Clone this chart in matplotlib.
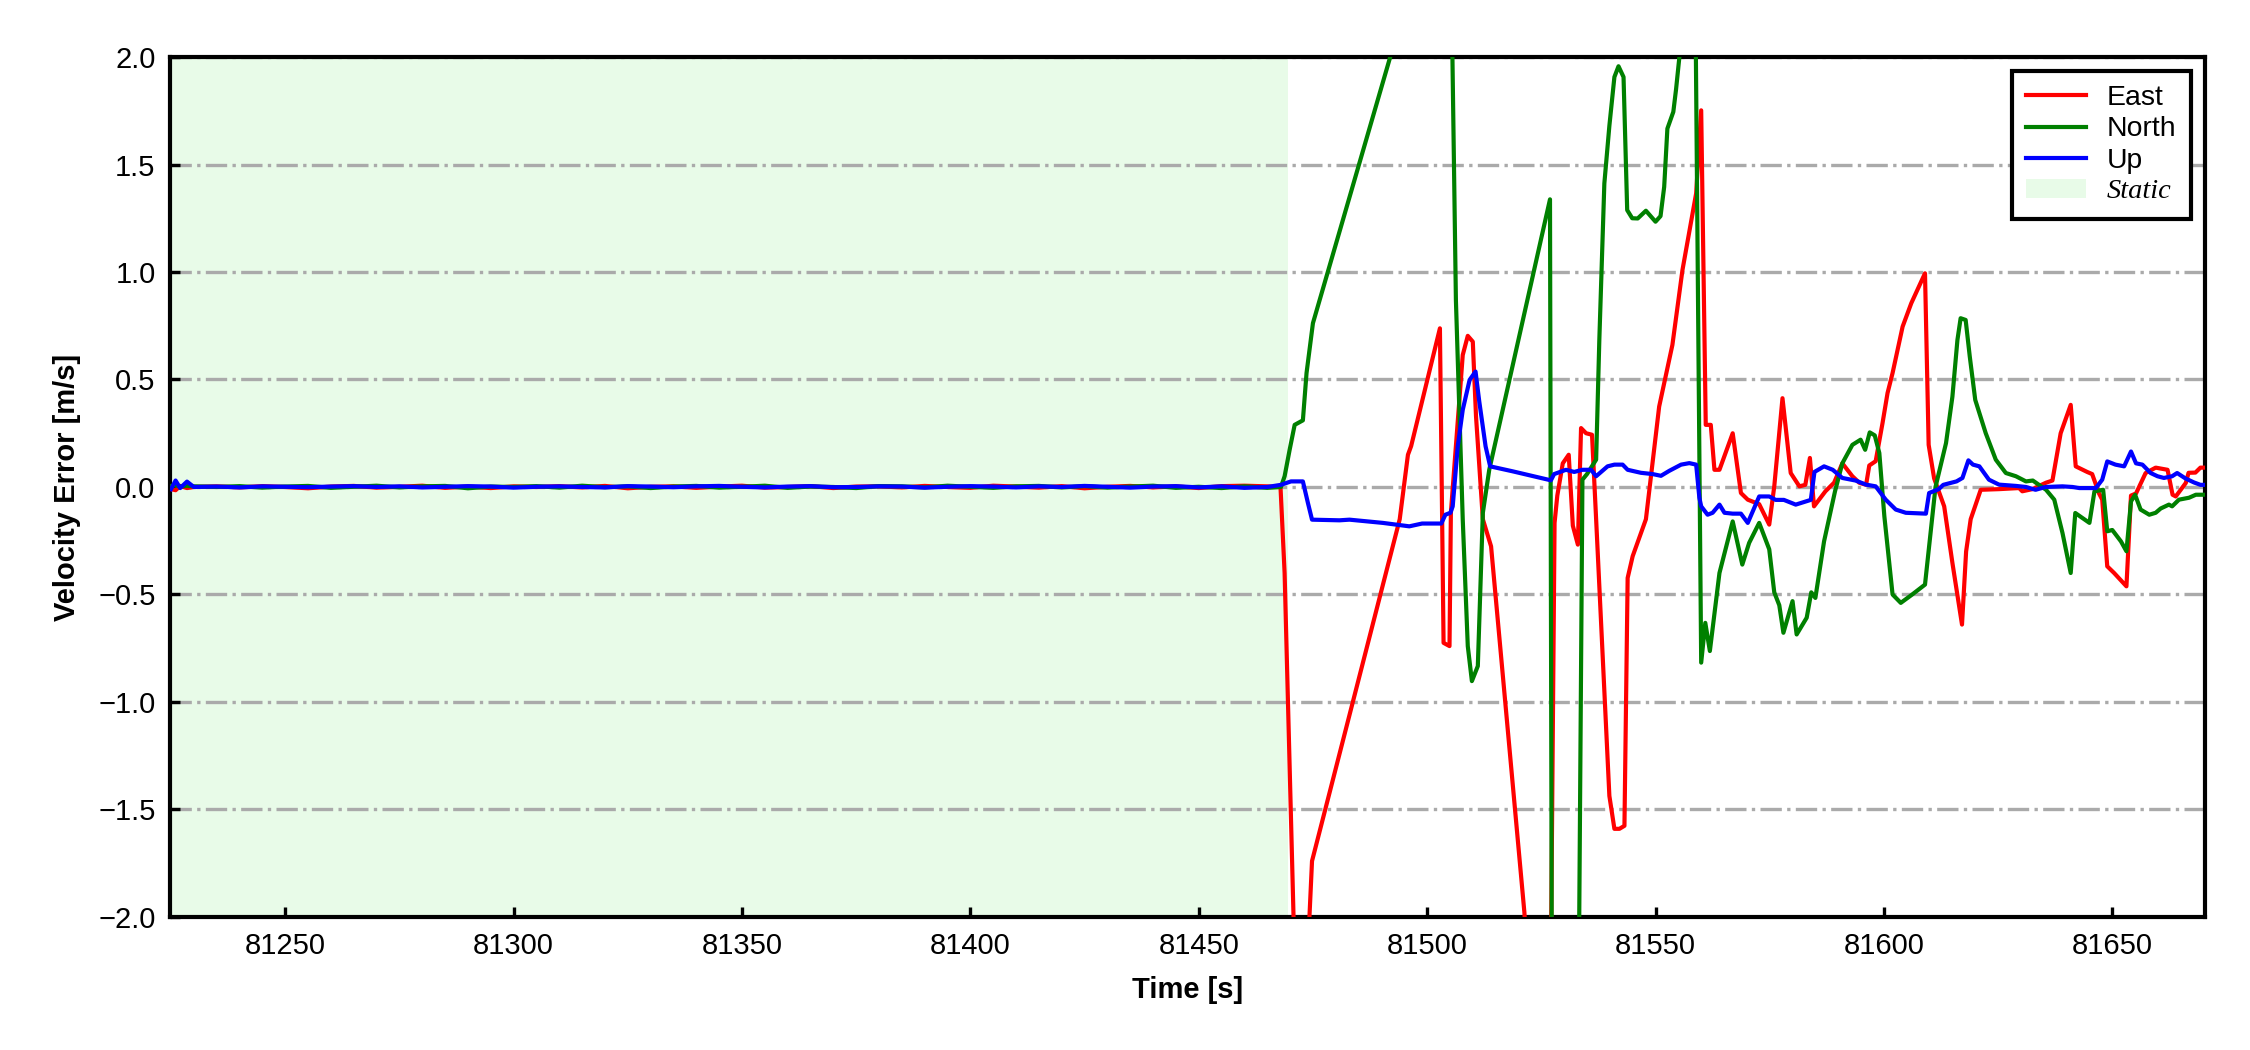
import numpy as np
import matplotlib
matplotlib.use("Agg")
import matplotlib.pyplot as plt
from matplotlib.patches import Patch
from matplotlib.lines import Line2D

plt.rcParams['font.family'] = ['Liberation Sans', 'DejaVu Sans']

# static period samples (shared time base)
static_time = [81225, 81226, 81227, 81228.5, 81230,
               81235, 81240, 81245, 81250, 81255, 81260, 81265, 81270, 81275, 81280,
               81285, 81290, 81295, 81300, 81305, 81310, 81315, 81320, 81325, 81330,
               81335, 81340, 81345, 81350, 81355, 81360, 81365, 81370, 81375, 81380,
               81385, 81390, 81395, 81400, 81405, 81410, 81415, 81420, 81425, 81430,
               81435, 81440, 81445, 81450, 81455, 81460, 81465]
east_static = [-0.01, -0.015, 0.005, -0.005, 0.0,
               0.003, -0.002, 0.004, 0.0, -0.006, 0.002, 0.005, -0.003, 0.001, 0.006,
               -0.004, 0.002, -0.005, 0.003, 0.0, 0.004, -0.002, 0.005, -0.006, 0.001,
               0.003, -0.004, 0.002, 0.006, -0.003, 0.0, 0.004, -0.005, 0.002, 0.003,
               -0.002, 0.005, 0.0, -0.004, 0.006, 0.002, -0.003, 0.004, -0.006, 0.001,
               0.005, -0.002, 0.003, -0.005, 0.004, 0.006, 0.003]
north_static = [0.005, 0.008, 0.002, 0.006, 0.003,
                0.0, 0.004, -0.003, 0.002, 0.005, -0.004, 0.001, 0.006, -0.002, 0.003,
                0.005, -0.006, 0.002, 0.0, 0.004, -0.003, 0.006, -0.001, 0.003, -0.005,
                0.002, 0.005, -0.003, 0.001, 0.006, -0.004, 0.002, 0.0, -0.005, 0.004,
                0.003, -0.002, 0.006, 0.001, -0.004, 0.003, 0.005, -0.002, 0.004, -0.003,
                0.002, 0.006, -0.004, 0.001, -0.005, 0.003, -0.004]
up_static = [-0.01, 0.03, -0.005, 0.025, 0.0,
             0.002, -0.002, 0.003, 0.001, -0.001, 0.002, 0.004, 0.0, 0.003, -0.002,
             0.001, 0.004, 0.002, -0.003, 0.001, 0.003, 0.0, -0.002, 0.004, 0.002,
             -0.001, 0.003, 0.005, 0.001, -0.002, 0.002, 0.004, -0.001, 0.0, 0.003,
             0.002, -0.003, 0.001, 0.004, 0.002, -0.002, 0.003, 0.0, 0.005, 0.001,
             -0.003, 0.002, 0.004, -0.002, 0.003, -0.004, 0.0]

# dynamic period
east_time = [81467.9, 81468.8, 81471.0, 81473.8, 81474.8, 81494.0, 81495.8, 81496.5,
             81502.8, 81503.6, 81504.9, 81505.2, 81507.8, 81508.9, 81510.0, 81510.7,
             81512.2, 81514.0, 81521.3, 81521.8, 81527.1, 81527.9, 81528.5, 81529.7,
             81531.0, 81531.9, 81533.0, 81533.7, 81534.8, 81536.1, 81537.0, 81539.9,
             81541.0, 81542.1, 81543.2, 81543.9, 81545.0, 81547.9, 81550.8, 81553.7,
             81555.9, 81558.9, 81560.0, 81561.0, 81562.1, 81562.9, 81564.0, 81566.9,
             81568.7, 81570.2, 81572.7, 81574.9, 81576.0, 81577.8, 81579.6, 81581.5,
             81582.8, 81583.8, 81584.7, 81587.2, 81589.1, 81590.9, 81593.1, 81594.6,
             81596.1, 81596.8, 81598.2, 81599.7, 81600.8, 81601.9, 81604.1, 81606.0,
             81609.0, 81609.8, 81611.0, 81613.2, 81615.0, 81617.1, 81618.0, 81619.0,
             81621.2, 81625.2, 81629.6, 81630.3, 81632.5, 81635.5, 81636.9, 81638.7,
             81640.9, 81642.0, 81644.5, 81645.6, 81647.1, 81647.8, 81648.9, 81650.4,
             81653.1, 81654.1, 81655.2, 81657.3, 81659.5, 81662.1, 81663.2, 81663.9,
             81666.1, 81666.7, 81668.2, 81669.3, 81670.3]
east_vel = [0.0, -0.40, -2.2, -2.2, -1.74, -0.15, 0.15, 0.19,
            0.738, -0.725, -0.74, -0.12, 0.614, 0.703, 0.676, 0.33,
            -0.15, -0.276, -1.98, -2.2, -2.2, -0.167, -0.04, 0.11,
            0.15, -0.18, -0.268, 0.274, 0.25, 0.243, -0.15, -1.437,
            -1.59, -1.59, -1.576, -0.423, -0.322, -0.15, 0.374, 0.661,
            1.009, 1.366, 1.752, 0.289, 0.289, 0.08, 0.08, 0.25,
            -0.028, -0.059, -0.08, -0.175, 0.003, 0.413, 0.065, 0.003,
            0.01, 0.135, -0.09, -0.02, 0.02, 0.11, 0.05, 0.02,
            0.01, 0.10, 0.12, 0.297, 0.437, 0.53, 0.746, 0.855,
            0.994, 0.196, 0.04, -0.09, -0.353, -0.64, -0.30, -0.15,
            -0.013, -0.01, -0.005, -0.02, -0.01, 0.02, 0.03, 0.25,
            0.382, 0.096, 0.07, 0.06, -0.03, -0.059, -0.369, -0.40,
            -0.462, -0.04, -0.03, 0.065, 0.09, 0.08, -0.036, -0.044,
            0.019, 0.066, 0.067, 0.09, 0.09]

north_time = [81468.0, 81468.8, 81469.9, 81471.0, 81472.8, 81473.6, 81475.0, 81504.9,
              81506.3, 81507.8, 81508.9, 81509.8, 81511.1, 81512.2, 81513.6, 81526.9,
              81527.3, 81533.2, 81534.0, 81535.0, 81537.0, 81537.7, 81538.8, 81539.9,
              81541.0, 81541.9, 81543.0, 81543.8, 81544.9, 81546.1, 81547.9, 81550.0,
              81551.1, 81551.9, 81552.6, 81553.9, 81554.5, 81556.2, 81558.8, 81560.0,
              81560.9, 81561.9, 81564.0, 81566.9, 81569.0, 81570.5, 81572.7, 81574.9,
              81576.0, 81577.1, 81578.0, 81580.0, 81580.9, 81583.1, 81584.1, 81585.0,
              81586.9, 81589.3, 81590.9, 81593.1, 81594.9, 81595.9, 81596.9, 81598.0,
              81599.0, 81600.1, 81601.9, 81603.7, 81606.2, 81609.0, 81609.9, 81611.3,
              81613.6, 81615.0, 81616.1, 81616.8, 81617.9, 81618.8, 81620.0, 81622.3,
              81624.5, 81626.7, 81628.9, 81631.1, 81632.6, 81635.5, 81637.3, 81639.1,
              81640.9, 81641.9, 81645.0, 81646.1, 81648.0, 81648.9, 81650.0, 81651.9,
              81653.1, 81654.1, 81655.0, 81656.2, 81658.1, 81659.5, 81660.6, 81662.4,
              81663.1, 81664.6, 81666.8, 81668.3, 81670.3]
north_vel = [0.0, 0.05, 0.173, 0.289, 0.31, 0.53, 0.762, 2.95,
             0.87, -0.152, -0.74, -0.903, -0.833, -0.12, 0.08, 1.338,
             -2.3, -2.3, 0.034, 0.06, 0.127, 0.684, 1.412, 1.68,
             1.907, 1.957, 1.907, 1.288, 1.25, 1.249, 1.285, 1.234,
             1.26, 1.396, 1.667, 1.745, 1.85, 2.2, 2.1, -0.817,
             -0.632, -0.763, -0.4, -0.16, -0.361, -0.26, -0.167, -0.29,
             -0.49, -0.55, -0.678, -0.531, -0.686, -0.608, -0.49, -0.516,
             -0.253, -0.02, 0.11, 0.196, 0.22, 0.173, 0.254, 0.24,
             0.158, -0.136, -0.5, -0.539, -0.5, -0.454, -0.276, 0.0,
             0.204, 0.42, 0.684, 0.785, 0.777, 0.607, 0.405, 0.25,
             0.127, 0.065, 0.05, 0.026, 0.03, -0.013, -0.059, -0.214,
             -0.4, -0.121, -0.167, -0.02, -0.013, -0.206, -0.2, -0.253,
             -0.299, -0.067, -0.036, -0.105, -0.129, -0.12, -0.1, -0.082,
             -0.09, -0.059, -0.05, -0.036, -0.036]

up_time = [81468.0, 81470.2, 81472.8, 81473.9, 81474.8, 81480.8, 81483.0, 81490.3,
           81496.1, 81498.9, 81503.1, 81504.0, 81505.1, 81505.6, 81506.7, 81507.8,
           81509.3, 81510.6, 81511.4, 81512.8, 81513.8, 81518.7, 81527.1, 81527.8,
           81530.4, 81532.2, 81534.0, 81535.9, 81537.0, 81539.5, 81541.0, 81542.8,
           81543.9, 81546.8, 81549.4, 81551.2, 81553.0, 81555.6, 81557.4, 81558.9,
           81559.6, 81560.0, 81561.4, 81562.5, 81564.0, 81565.1, 81566.9, 81568.7,
           81570.2, 81572.7, 81574.9, 81576.3, 81578.1, 81580.7, 81584.0, 81584.8,
           81586.9, 81588.8, 81590.9, 81593.8, 81596.1, 81598.2, 81600.4, 81602.6,
           81604.8, 81609.2, 81609.9, 81612.0, 81613.0, 81615.9, 81617.2, 81618.5,
           81619.5, 81620.9, 81623.0, 81625.2, 81628.9, 81631.1, 81633.2, 81635.4,
           81639.1, 81641.3, 81642.8, 81646.4, 81647.8, 81648.9, 81650.7, 81652.6,
           81654.1, 81655.2, 81656.6, 81658.4, 81659.9, 81661.3, 81663.1, 81664.2,
           81666.0, 81667.9, 81669.3, 81670.3]
up_vel = [0.01, 0.026, 0.026, -0.074, -0.152, -0.155, -0.152, -0.167,
          -0.183, -0.17, -0.17, -0.129, -0.12, -0.09, 0.189, 0.359,
          0.498, 0.537, 0.40, 0.189, 0.096, 0.073, 0.031, 0.06,
          0.08, 0.07, 0.08, 0.08, 0.05, 0.096, 0.104, 0.104,
          0.08, 0.066, 0.06, 0.052, 0.075, 0.104, 0.111, 0.104,
          -0.05, -0.09, -0.129, -0.12, -0.082, -0.12, -0.124, -0.124,
          -0.167, -0.044, -0.044, -0.06, -0.06, -0.082, -0.06, 0.07,
          0.096, 0.08, 0.042, 0.03, 0.011, 0.003, -0.059, -0.105,
          -0.12, -0.124, -0.028, -0.01, 0.01, 0.026, 0.042, 0.124,
          0.104, 0.096, 0.034, 0.011, 0.005, 0.0, -0.013, 0.0,
          0.003, 0.0, -0.005, -0.005, 0.034, 0.119, 0.104, 0.096,
          0.165, 0.11, 0.104, 0.065, 0.05, 0.042, 0.05, 0.065,
          0.04, 0.021, 0.01, 0.01]

static_end = 81469.5
x_min, x_max = 81224.8, 81670.3

t_e = np.array(static_time + east_time)
v_e = np.array(east_static + east_vel)
t_n = np.array(static_time + north_time)
v_n = np.array(north_static + north_vel)
t_u = np.array(static_time + up_time)
v_u = np.array(up_static + up_vel)

fig = plt.figure(figsize=(7.5, 3.5), dpi=300)
ax = fig.add_axes([0.0756, 0.1267, 0.9044, 0.819])

ax.axvspan(x_min, static_end, color='lightgreen', alpha=0.2, lw=0, zorder=0)
ax.plot(t_e, v_e, color='r', lw=1.0, label='East', zorder=3)
ax.plot(t_n, v_n, color='g', lw=1.0, label='North', zorder=3)
ax.plot(t_u, v_u, color='b', lw=1.0, label='Up', zorder=4)

ax.set_xlim(x_min, x_max)
ax.set_ylim(-2.0, 2.0)
ax.set_xticks([81250, 81300, 81350, 81400, 81450, 81500, 81550, 81600, 81650])
ax.set_yticks([-2.0, -1.5, -1.0, -0.5, 0.0, 0.5, 1.0, 1.5, 2.0])
ax.yaxis.grid(True, linestyle='-.', color='#aaaaaa', lw=0.8)
ax.set_axisbelow(True)
ax.tick_params(direction='in', length=2.5, width=0.8, labelsize=7)
for s in ax.spines.values():
    s.set_linewidth(1.0)

ax.set_xlabel('Time [s]', fontsize=7, fontweight='bold')
ax.set_ylabel('Velocity Error [m/s]', fontsize=7, fontweight='bold')

handles = [Line2D([], [], color='r', lw=1.0),
           Line2D([], [], color='g', lw=1.0),
           Line2D([], [], color='b', lw=1.0),
           Patch(facecolor='lightgreen', alpha=0.2, edgecolor='none')]
leg = ax.legend(handles, ['East', 'North', 'Up', 'Static'], loc='upper right',
                fontsize=6.8, fancybox=False, framealpha=1, edgecolor='black',
                labelspacing=0.18, handlelength=2.1, handletextpad=0.75,
                borderpad=0.5)
leg.get_frame().set_linewidth(1.0)
leg.get_texts()[3].set_fontfamily('Liberation Serif')
leg.get_texts()[3].set_fontstyle('italic')

fig.savefig('out.png', dpi=300)
